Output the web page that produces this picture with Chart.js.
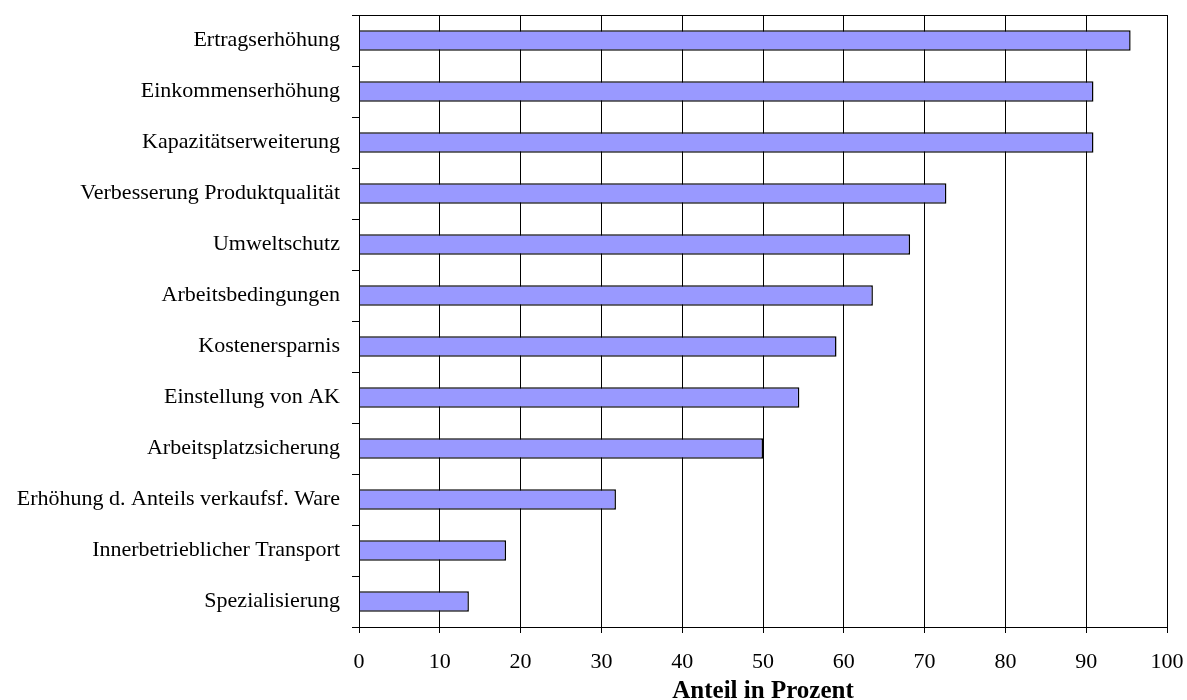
<!DOCTYPE html>
<html>
<head>
<meta charset="utf-8">
<script src="https://cdn.jsdelivr.net/npm/chart.js@4.4.0/dist/chart.umd.min.js"></script>
<style>
  html, body { margin: 0; padding: 0; background: #fff; }
  #wrap { width: 1187px; height: 700px; }
</style>
</head>
<body>
<div id="wrap"><canvas id="chart" width="1187" height="700"></canvas></div>
<script>
// categories top to bottom
const categories = [
  "Ertragserhöhung",
  "Einkommenserhöhung",
  "Kapazitätserweiterung",
  "Verbesserung Produktqualität",
  "Umweltschutz",
  "Arbeitsbedingungen",
  "Kostenersparnis",
  "Einstellung von AK",
  "Arbeitsplatzsicherung",
  "Erhöhung d. Anteils verkaufsf. Ware",
  "Innerbetrieblicher Transport",
  "Spezialisierung"
];
// share in percent
const shares = [95.5, 90.9, 90.9, 72.7, 68.2, 63.6, 59.1, 54.5, 50.0, 31.8, 18.2, 13.6];
const xTicks = [0, 10, 20, 30, 40, 50, 60, 70, 80, 90, 100];
const xTitle = "Anteil in Prozent";

const serif = "'Liberation Serif', 'Times New Roman', serif";

// frame around the plot area (top + right edges like the original)
const frame = {
  id: "frame",
  afterDraw(chart) {
    const { ctx, chartArea: a } = chart;
    ctx.save();
    ctx.strokeStyle = "#000";
    ctx.lineWidth = 1;
    ctx.strokeRect(Math.round(a.left) + 0.5, Math.round(a.top) + 0.5,
      Math.round(a.right - a.left), Math.round(a.bottom - a.top));
    ctx.restore();
  }
};

new Chart(document.getElementById("chart"), {
  type: "bar",
  data: {
    labels: categories,
    datasets: [{
      data: shares,
      backgroundColor: "#9999ff",
      borderColor: "#000",
      borderWidth: 1.5,
      barPercentage: 0.4,
      categoryPercentage: 1.0
    }]
  },
  options: {
    indexAxis: "y",
    responsive: false,
    animation: false,
    layout: { padding: { left: 10, right: 20, top: 15, bottom: -4 } },
    plugins: { legend: { display: false }, tooltip: { enabled: false } },
    scales: {
      x: {
        min: 0, max: 100,
        afterBuildTicks(scale) { scale.ticks = xTicks.map(v => ({ value: v })); },
        grid: { color: "#000", lineWidth: 1, tickLength: 6, drawTicks: true },
        border: { color: "#000" },
        ticks: { color: "#000", padding: 16, maxRotation: 0, font: { family: serif, size: 22 } },
        title: {
          display: true, text: xTitle, color: "#000",
          font: { family: serif, size: 25, weight: "bold" },
          padding: { top: 2, bottom: -3 }
        },
        afterFit(scale) {
          scale.height = 77;
          scale.paddingLeft = 0;
          scale.paddingRight = 0;
        }
      },
      y: {
        grid: { offset: true, drawOnChartArea: false, color: "#000", tickLength: 7 },
        border: { color: "#000" },
        ticks: { color: "#000", padding: 12, font: { family: serif, size: 22 } },
        afterFit(scale) {
          scale.width = 349;
          scale.paddingTop = 0;
          scale.paddingBottom = 0;
        }
      }
    }
  },
  plugins: [frame]
});
</script>
</body>
</html>
